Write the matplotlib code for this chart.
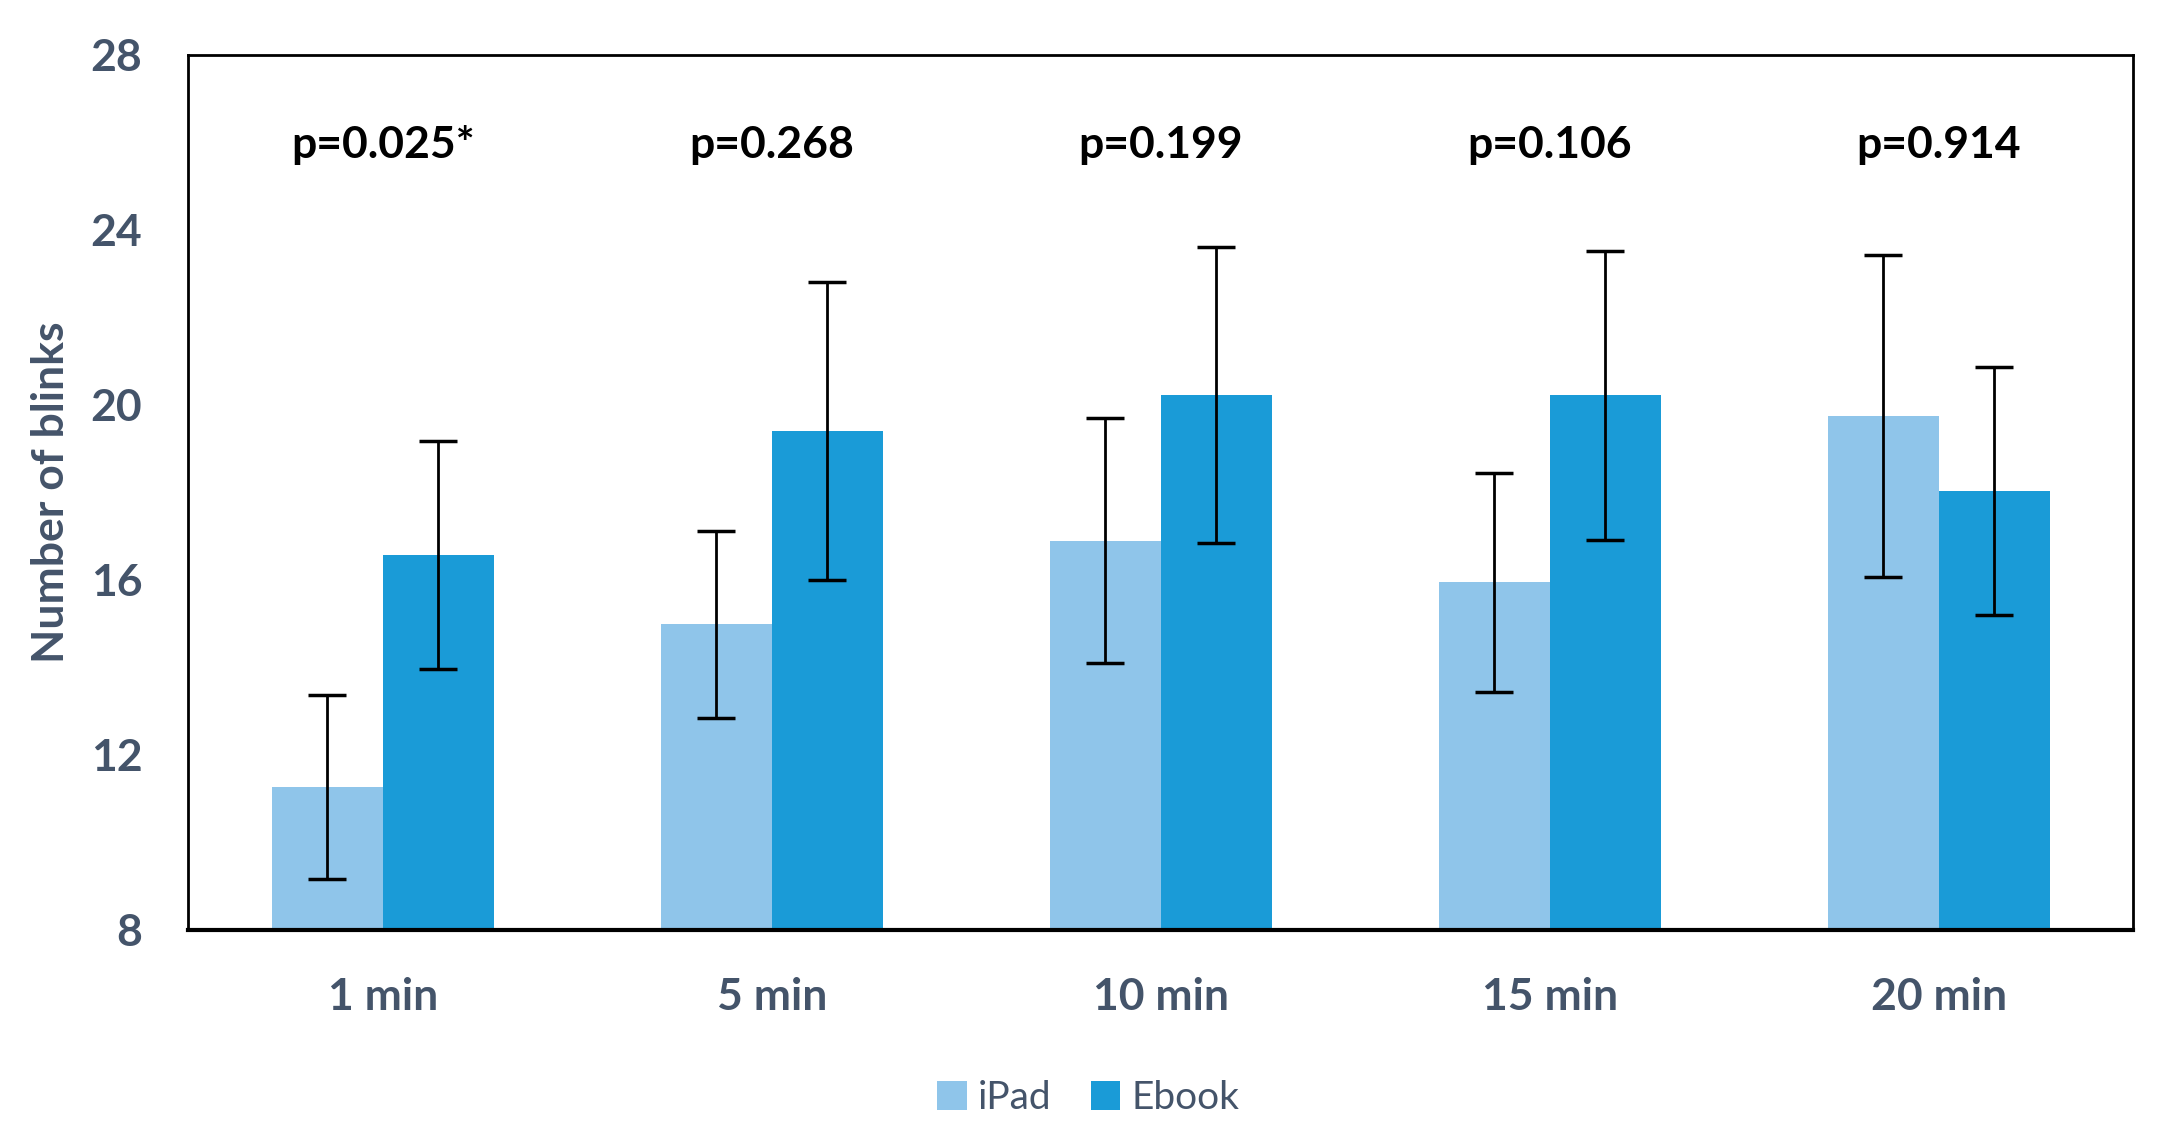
import matplotlib
matplotlib.use("Agg")
import matplotlib.pyplot as plt
import numpy as np

categories = ["1 min", "5 min", "10 min", "15 min", "20 min"]
ipad = [11.27, 14.98, 16.89, 15.94, 19.75]
ipad_err = [2.1, 2.14, 2.8, 2.5, 3.68]
ebook = [16.57, 19.40, 20.22, 20.22, 18.03]
ebook_err = [2.6, 3.4, 3.38, 3.3, 2.84]
pvalues = ["p=0.025*", "p=0.268", "p=0.199", "p=0.106", "p=0.914"]
yticks = [8, 12, 16, 20, 24, 28]

c_ipad = "#8FC5EA"
c_ebook = "#1A9BD7"
c_text = "#44546A"

plt.rcParams['font.family'] = ['Lato', 'DejaVu Sans']

fig = plt.figure(figsize=(21.77, 11.45), dpi=100)
ax = fig.add_axes([0.0864, 0.188, 0.980 - 0.0864, 0.952 - 0.188])

x = np.arange(len(categories))
w = 0.285
ax.bar(x - w/2, ipad, w, color=c_ipad, label="iPad", zorder=2)
ax.bar(x + w/2, ebook, w, color=c_ebook, label="Ebook", zorder=2)
ax.errorbar(x - w/2, ipad, yerr=ipad_err, fmt='none', ecolor='black',
            elinewidth=2, capsize=14, capthick=2.5, zorder=3)
ax.errorbar(x + w/2, ebook, yerr=ebook_err, fmt='none', ecolor='black',
            elinewidth=2, capsize=14, capthick=2.5, zorder=3)

for xi, p in zip(x, pvalues):
    ax.text(xi, 25.93, p, ha='center', va='center', fontsize=32,
            fontweight='bold', color='black')

ax.set_xlim(-0.5, len(categories) - 0.5)
ax.set_ylim(8, 28)
ax.set_yticks(yticks)
ax.set_yticklabels([str(t) for t in yticks])
ax.set_xticks(x)
ax.set_xticklabels(categories)
ax.tick_params(axis='both', length=0, labelsize=32, labelcolor=c_text)
ax.tick_params(axis='x', pad=34)
ax.tick_params(axis='y', pad=33)
for lbl in ax.get_xticklabels() + ax.get_yticklabels():
    lbl.set_fontweight('bold')

for s in ax.spines.values():
    s.set_color('black')
    s.set_linewidth(2)
ax.spines['bottom'].set_linewidth(3)

ax.set_ylabel("Number of blinks", fontsize=32, fontweight='bold', color=c_text)
ax.yaxis.set_label_coords(-0.060, 0.5)

leg = fig.legend(loc='center', bbox_to_anchor=(0.5, 0.041), ncol=2, frameon=False,
                 fontsize=28, handlelength=0.75, handleheight=0.75,
                 handletextpad=0.3, columnspacing=1.0)
for t in leg.get_texts():
    t.set_color(c_text)

fig.savefig("out.png", dpi=100, facecolor='white')
